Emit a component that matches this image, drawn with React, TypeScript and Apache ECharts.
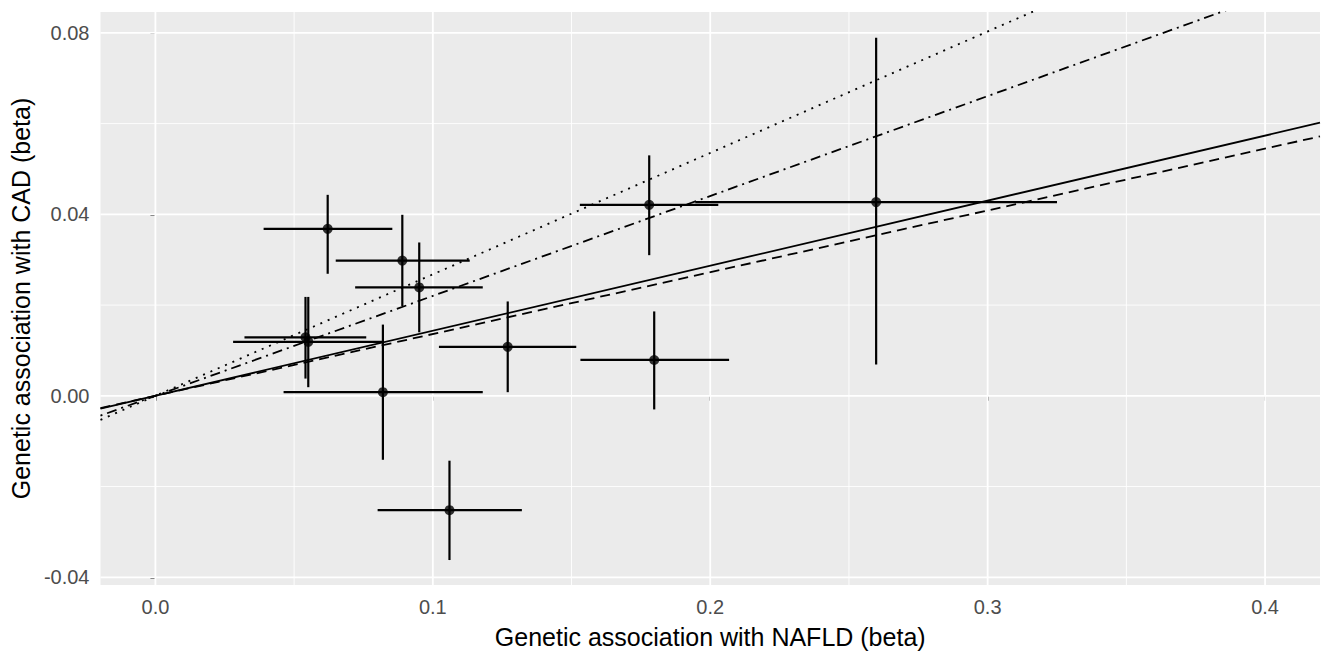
import React, { useEffect, useRef } from "react";
import * as echarts from "echarts";

// Axis ranges (ggplot-expanded)
const X_MIN = -0.0198;
const X_MAX = 0.4198;
const Y_MIN = -0.0417;
const Y_MAX = 0.0846;

// Tick / gridline values
const xTicks = [0, 0.1, 0.2, 0.3, 0.4];
const xMinor = [0.05, 0.15, 0.25, 0.35];
const yTicks = [-0.04, 0, 0.04, 0.08];
const yMinor = [-0.02, 0.02, 0.06];

// SNP estimates
const snpX = [0.0621, 0.089, 0.0951, 0.0541, 0.0551, 0.082, 0.127, 0.106, 0.1798, 0.178, 0.2598];
const snpY = [0.0368, 0.0298, 0.0239, 0.0129, 0.0119, 0.0008, 0.0108, -0.0252, 0.0079, 0.0421, 0.0427];
const xLo = [0.039, 0.065, 0.072, 0.0321, 0.028, 0.0462, 0.1022, 0.0801, 0.1532, 0.153, 0.1946];
const xHi = [0.0854, 0.1133, 0.118, 0.076, 0.0817, 0.118, 0.1517, 0.1321, 0.2068, 0.2029, 0.325];
const yLo = [0.0269, 0.0198, 0.014, 0.0038, 0.0019, -0.0141, 0.0008, -0.0362, -0.003, 0.031, 0.0069];
const yHi = [0.0443, 0.0399, 0.0338, 0.0218, 0.0218, 0.0157, 0.0208, -0.0143, 0.0186, 0.053, 0.0789];

// MR method slopes (lines through origin)
const methods = ["Inverse variance weighted", "Weighted median", "MR Egger", "Weighted mode"];
const slopes = [0.1434, 0.1362, 0.2677, 0.2202];
const dashes: (number[] | "solid")[] = ["solid", [10, 6], [2, 6], [2, 5, 10, 5]];

const FONT = "'Liberation Sans', Arial, Helvetica, sans-serif";

function gridSeries(values: number[], vertical: boolean, width: number) {
  return {
    type: "custom",
    silent: true,
    z: 1,
    data: values.map((v) => [v]),
    renderItem: (_p: any, api: any) => {
      const v = api.value(0);
      const a = vertical ? api.coord([v, Y_MIN]) : api.coord([X_MIN, v]);
      const b = vertical ? api.coord([v, Y_MAX]) : api.coord([X_MAX, v]);
      return {
        type: "line",
        shape: { x1: a[0], y1: a[1], x2: b[0], y2: b[1] },
        style: { stroke: "#FFFFFF", lineWidth: width },
      };
    },
  };
}

export default function App() {
  const ref = useRef<HTMLDivElement>(null);
  useEffect(() => {
    document.body.style.margin = "0";
    if (!ref.current) return;
    const chart = echarts.init(ref.current, null, { renderer: "svg" });
    const errData = snpX.map((x, i) => [x, snpY[i], xLo[i], xHi[i], yLo[i], yHi[i]]);
    const lineSeries = methods.map((name, i) => ({
      type: "line",
      name,
      z: 5,
      symbol: "none",
      clip: true,
      data: [
        [X_MIN, slopes[i] * X_MIN],
        [X_MAX, slopes[i] * X_MAX],
      ],
      lineStyle: { color: "#000000", width: 1.8, type: dashes[i] },
    }));
    chart.setOption({
      animation: false,
      backgroundColor: "#FFFFFF",
      grid: {
        left: 100,
        top: 12,
        width: 1220,
        height: 580,
        show: true,
        backgroundColor: "#EBEBEB",
        borderWidth: 0,
      },
      xAxis: {
        type: "value",
        min: X_MIN,
        max: X_MAX,
        name: "Genetic association with NAFLD (beta)",
        nameLocation: "middle",
        nameGap: 39,
        nameTextStyle: { fontFamily: FONT, fontSize: 25, color: "#000000" },
        axisLine: { show: false },
        axisTick: { show: true, length: 5, customValues: xTicks, lineStyle: { color: "#333333", width: 1.5 } },
        axisLabel: {
          customValues: xTicks,
          margin: 12,
          fontFamily: FONT,
          fontSize: 20,
          color: "#4D4D4D",
          formatter: (v: number) => v.toFixed(1),
        },
        splitLine: { show: false },
      },
      yAxis: {
        type: "value",
        min: Y_MIN,
        max: Y_MAX,
        name: "Genetic association with CAD (beta)",
        nameLocation: "middle",
        nameGap: 66,
        nameTextStyle: { fontFamily: FONT, fontSize: 25, color: "#000000" },
        axisLine: { show: false },
        axisTick: { show: true, length: 5, customValues: yTicks, lineStyle: { color: "#333333", width: 1.5 } },
        axisLabel: {
          customValues: yTicks,
          margin: 11,
          fontFamily: FONT,
          fontSize: 20,
          color: "#4D4D4D",
          formatter: (v: number) => v.toFixed(2),
        },
        splitLine: { show: false },
      },
      series: [
        gridSeries(xMinor, true, 0.9),
        gridSeries(yMinor, false, 0.9),
        gridSeries(xTicks, true, 1.8),
        gridSeries(yTicks, false, 1.8),
        {
          type: "custom",
          z: 3,
          silent: true,
          data: errData,
          renderItem: (_p: any, api: any) => {
            const x = api.value(0);
            const y = api.value(1);
            const a = api.coord([api.value(2), y]);
            const b = api.coord([api.value(3), y]);
            const c = api.coord([x, api.value(4)]);
            const d = api.coord([x, api.value(5)]);
            const st = { stroke: "#000000", lineWidth: 2.2 };
            return {
              type: "group",
              children: [
                { type: "line", shape: { x1: a[0], y1: a[1], x2: b[0], y2: b[1] }, style: st },
                { type: "line", shape: { x1: c[0], y1: c[1], x2: d[0], y2: d[1] }, style: st },
              ],
            };
          },
        },
        {
          type: "scatter",
          z: 4,
          symbol: "circle",
          symbolSize: 10,
          itemStyle: { color: "#000000" },
          data: snpX.map((x, i) => [x, snpY[i]]),
        },
        ...lineSeries,
      ],
    });
    return () => chart.dispose();
  }, []);
  return (
    <div
      ref={ref}
      style={{ position: "absolute", left: 0, top: 0, width: 1323, height: 654 }}
    />
  );
}
